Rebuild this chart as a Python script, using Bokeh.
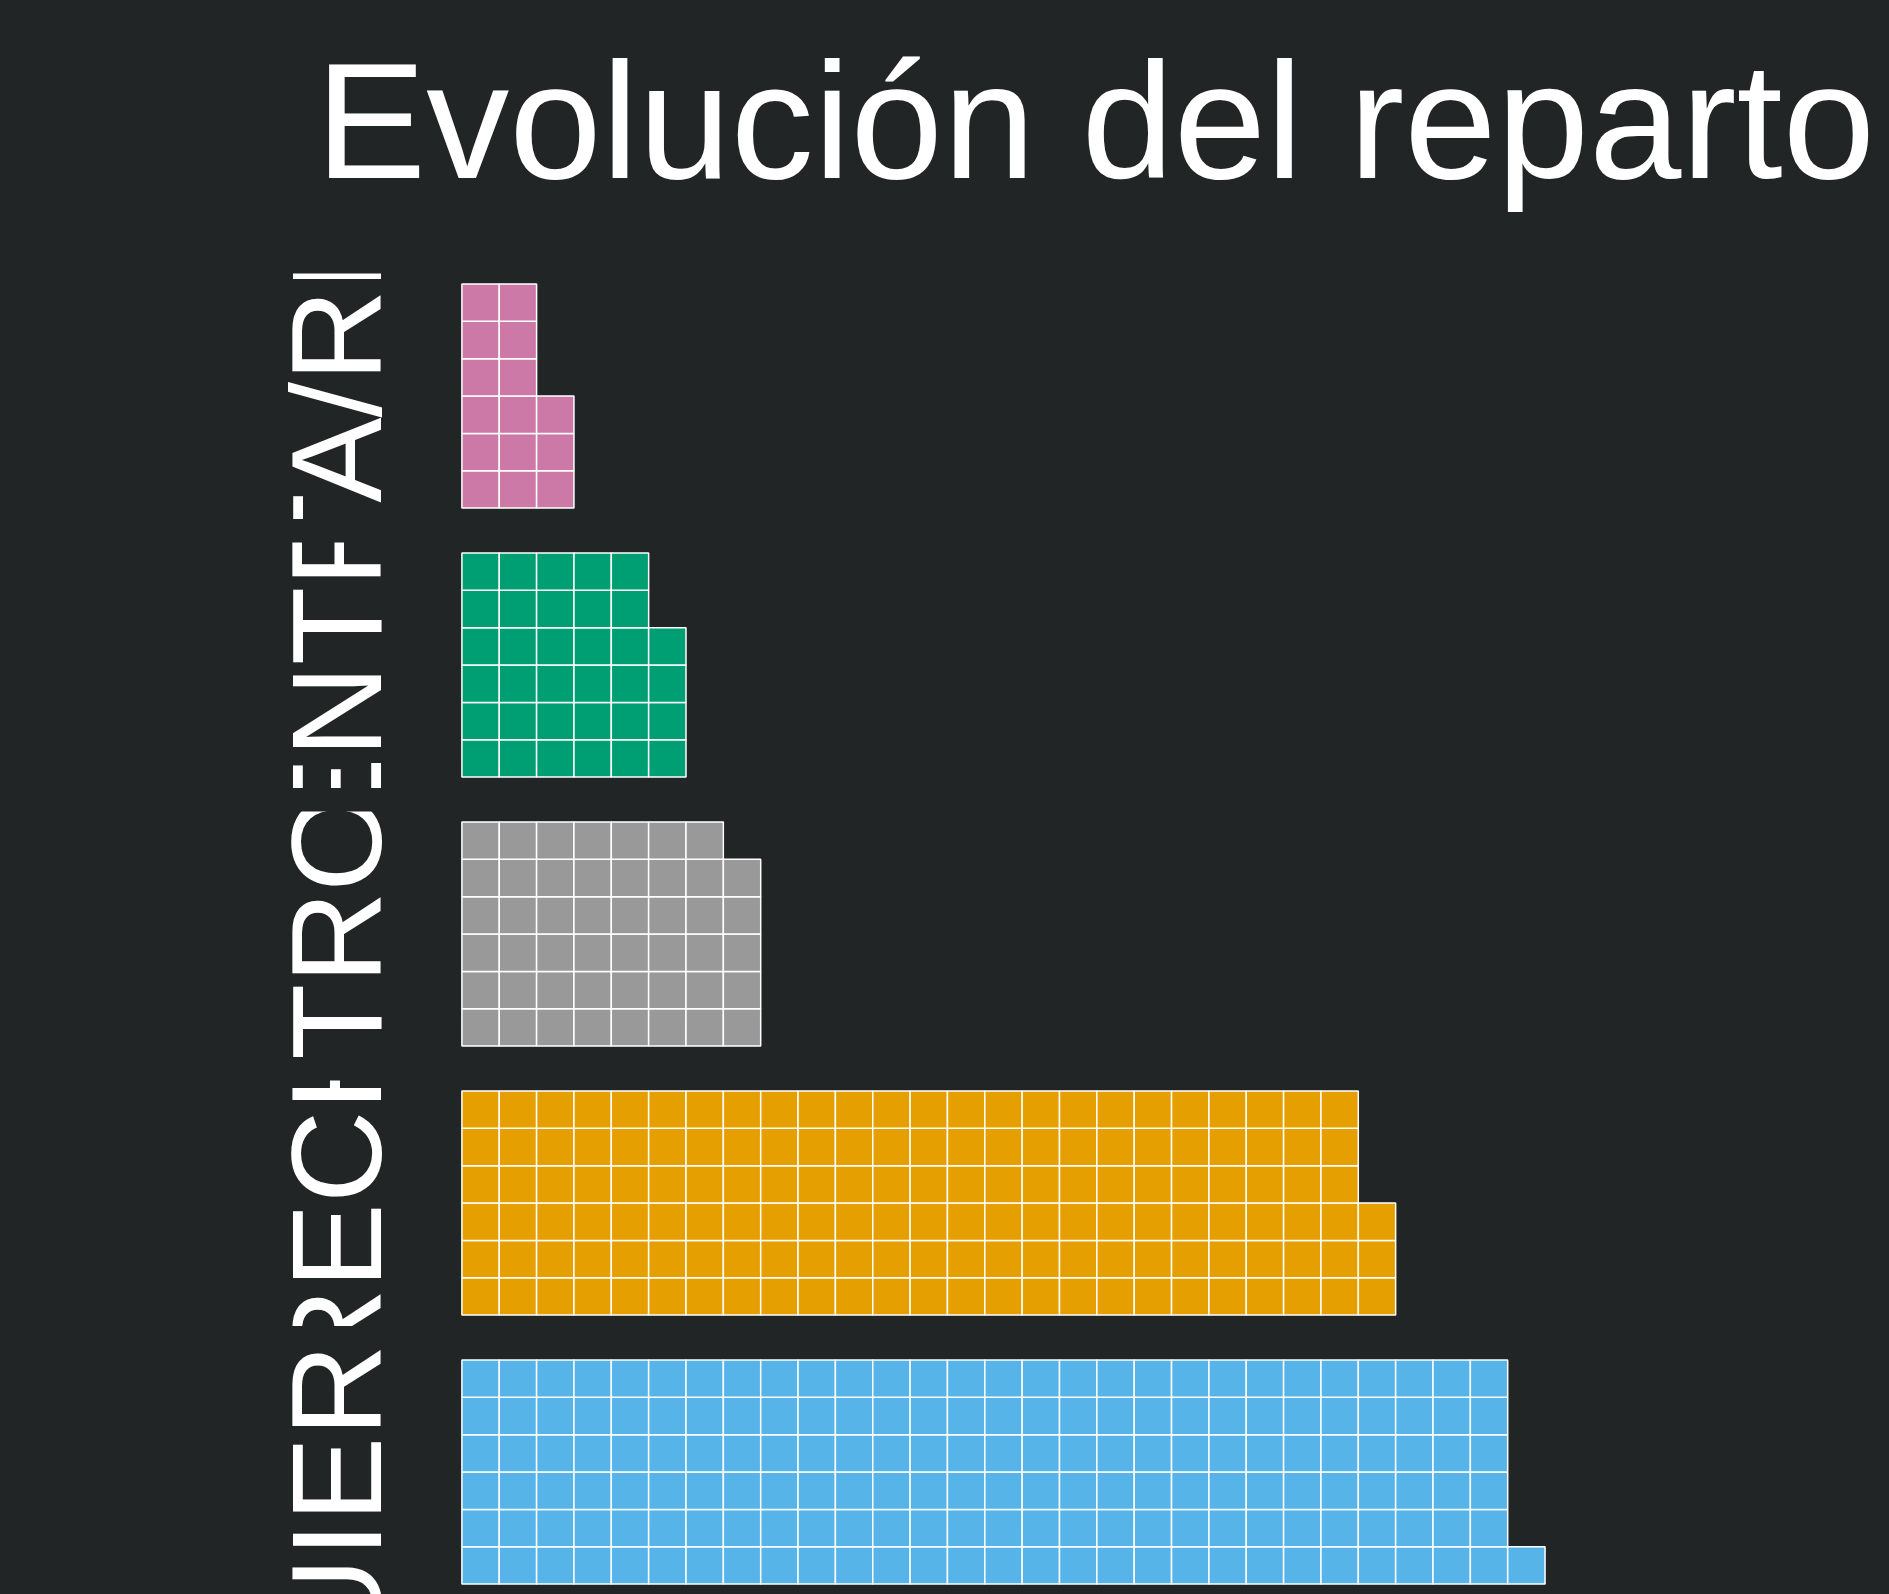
import math

from bokeh.core.properties import value
from bokeh.embed import file_html
from bokeh.layouts import column
from bokeh.models import ColumnDataSource, GlobalInlineStyleSheet, Range1d
from bokeh.plotting import figure
from bokeh.resources import INLINE

# Data (top to bottom as drawn)
TITLE = "Evolución del reparto"
groups = ["NACIONALISTA/REGIONALISTA", "CENTRO", "OTROS", "DERECHAS", "IZQUIERDAS"]
seats = [15, 34, 47, 147, 169]
colors = ["#CC79A7", "#009E73", "#999999", "#E69F00", "#56B4E9"]

# Layout constants (pixels)
BG = "#222525"
FONT = value("Liberation Sans")
PAGE_W, PAGE_H = 1889, 1594
ROWS = 6
CELL = 37.35          # one waffle square
X0 = 461.4            # page x of the first column of squares
LABEL_X = 335.5       # page x of the rotated label anchor
TOP_PAD = 10.5        # space above the squares inside a band
TITLE_H = 250
BAND_H = 246
GAP = 23


def band(label, n, color, height):
    top = ROWS + TOP_PAD / CELL
    p = figure(
        width=PAGE_W,
        height=height,
        x_range=Range1d(-X0 / CELL, (PAGE_W - X0) / CELL),
        y_range=Range1d(top - height / CELL, top),
        x_axis_type=None,
        y_axis_type=None,
        toolbar_location=None,
        output_backend="svg",
        min_border=0,
        background_fill_color=BG,
        border_fill_color=BG,
        outline_line_color=None,
    )
    p.grid.visible = False

    # squares fill column by column, bottom row first
    source = ColumnDataSource(data={
        "x": [i // ROWS + 0.5 for i in range(n)],
        "y": [i % ROWS + 0.5 for i in range(n)],
    })
    p.rect("x", "y", width=1, height=1, source=source,
           fill_color=color, line_color="white", line_width=1.5)

    # big vertical label, clipped by the band's own canvas
    p.text(x=[(LABEL_X - X0) / CELL], y=[ROWS / 2], text=[label],
           angle=math.pi / 2, text_align="center", text_baseline="alphabetic",
           text_font=FONT, text_font_size="128px", text_color="white")
    return p


# Title strip
t = figure(
    width=PAGE_W,
    height=TITLE_H,
    x_range=Range1d(0, PAGE_W),
    y_range=Range1d(TITLE_H, 0),
    x_axis_type=None,
    y_axis_type=None,
    toolbar_location=None,
    output_backend="svg",
    min_border=0,
    background_fill_color=BG,
    border_fill_color=BG,
    outline_line_color=None,
)
t.grid.visible = False
t.text(x=[315], y=[120], text=[TITLE], text_align="left", text_baseline="alphabetic",
       text_font=FONT, text_font_size="166px", text_color="white")

bands = []
used = TITLE_H + GAP
for k, (g, n, c) in enumerate(zip(groups, seats, colors)):
    h = BAND_H if k < len(groups) - 1 else PAGE_H - used
    bands.append(band(g, n, c, h))
    used += h + GAP

page_css = GlobalInlineStyleSheet(
    css=f"html, body {{ margin: 0; padding: 0; background-color: {BG}; overflow: hidden; }}"
)
p = column(t, *bands, spacing=GAP, stylesheets=[page_css])

open("out.html", "w").write(file_html(p, INLINE))
